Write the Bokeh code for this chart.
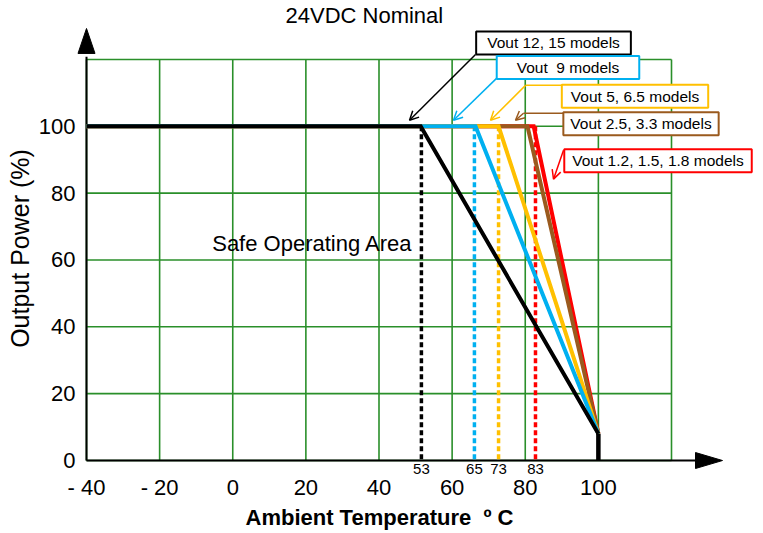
from bokeh.plotting import figure
from bokeh.models import Range1d, FixedTicker, Label, Arrow, OpenHead, LinearAxis, Title
from bokeh.embed import file_html
from bokeh.resources import INLINE

# ---------------- data ----------------
grid_temps = [-40, -20, 0, 20, 40, 60, 80, 100, 120]
grid_powers = [0, 20, 40, 60, 80, 100, 120]
x_tick_values = [-40, -20, 0, 20, 40, 60, 80, 100]
x_tick_labels = ["- 40", "- 20", "0", "20", "40", "60", "80", "100"]
y_tick_values = [0, 20, 40, 60, 80, 100]

series_labels = ["Vout 12, 15 models", "Vout \u00a09 models", "Vout 5, 6.5 models",
                 "Vout 2.5, 3.3 models", "Vout 1.2, 1.5, 1.8 models"]
knee_temp = [51.4, 66.4, 72.7, 80.6, 82.3]      # derating start (deg C)
start_temp = -40
full_power = 100
end_temp = 100
end_power = 8

derate_temp = [51.6, 66.1, 72.7, 82.8]
derate_labels = ["53", "65", "73", "83"]

# ---------------- styles ----------------
FONT = "Liberation Sans"
series_colors = ["#000000", "#00b0f0", "#ffc000", "#9a5a1e", "#ff0000"]
derate_colors = ["#000000", "#00b0f0", "#ffc000", "#ff0000"]
GRID = "#2a8f2a"

# pixel scale of the drawing (px per unit)
SX = 585 / 160.0
SY = 3.35

p = figure(width=763, height=533,
           x_range=Range1d(-40 - 10 / SX, -40 + 669 / SX),
           y_range=Range1d(-9 / SY, 434 / SY),
           output_backend="svg", toolbar_location=None,
           min_border_left=76, min_border_right=8,
           min_border_top=26, min_border_bottom=64)
p.outline_line_color = None
p.xgrid.visible = False
p.ygrid.visible = False
p.background_fill_color = "white"

p.title.text = "24VDC Nominal"
p.title.text_font = FONT
p.title.text_font_size = "22px"
p.title.text_font_style = "normal"
p.title.text_color = "black"
p.title.align = "left"
p.title.offset = 209
p.title.standoff = 0

# small derating-temperature axis (nearest to the plot)
small_ax = p.xaxis[0]
small_ax.ticker = FixedTicker(ticks=derate_temp)
small_ax.major_label_overrides = {t: s for t, s in zip(derate_temp, derate_labels)}
small_ax.major_label_text_font_size = "15px"
small_ax.major_label_standoff = -6

# main temperature axis
main_ax = LinearAxis(ticker=FixedTicker(ticks=x_tick_values))
main_ax.major_label_overrides = {v: s for v, s in zip(x_tick_values, x_tick_labels)}
main_ax.major_label_text_font_size = "22px"
main_ax.major_label_standoff = -2
p.add_layout(main_ax, "below")

# x axis title, placed as in the original drawing
x_title = Title(text="Ambient Temperature \u00a0º C", text_font=FONT, text_font_size="22px",
                text_font_style="bold", text_color="black", align="left",
                offset=169, standoff=0)
p.add_layout(x_title, "below")

p.yaxis.ticker = FixedTicker(ticks=y_tick_values)
p.yaxis.major_label_text_font_size = "22px"
p.yaxis.major_label_standoff = 1
p.yaxis.axis_label = "Output Power (%)"
p.yaxis.axis_label_text_font_style = "normal"
p.yaxis.axis_label_text_font_size = "25px"
p.yaxis.axis_label_standoff = 2

for ax in (small_ax, main_ax, p.yaxis[0]):
    ax.axis_line_color = None
    ax.major_tick_line_color = None
    ax.minor_tick_line_color = None
    ax.major_tick_out = 0
    ax.major_tick_in = 0
    ax.minor_tick_out = 0
    ax.minor_tick_in = 0
    ax.major_label_text_font = FONT
    ax.major_label_text_color = "black"
    ax.axis_label_text_font = FONT
    ax.axis_label_text_color = "black"

# grid
gx_min, gx_max = grid_temps[0], grid_temps[-1]
gy_min, gy_max = grid_powers[0], grid_powers[-1]
p.segment(x0=grid_temps, y0=[gy_min] * len(grid_temps),
          x1=grid_temps, y1=[gy_max] * len(grid_temps),
          line_color=GRID, line_width=1.6)
p.segment(x0=[gx_min] * len(grid_powers), y0=grid_powers,
          x1=[gx_max] * len(grid_powers), y1=grid_powers,
          line_color=GRID, line_width=1.6)

# axis lines with arrow heads
x_tip = -40 + 636 / SX
x_base = -40 + 609 / SX
y_tip = 433 / SY
y_base = 408 / SY
p.line([gx_min, x_base + 1], [0, 0], line_color="black", line_width=2)
p.line([gx_min, gx_min], [0, y_base - 1], line_color="black", line_width=2)
p.patch([x_base, x_tip, x_base], [8 / SY, 0, -8 / SY], color="black")
p.patch([gx_min - 8.5 / SX, gx_min, gx_min + 8.5 / SX], [y_base, y_tip, y_base], color="black")

# dashed derating markers
for t, c in zip(derate_temp, derate_colors):
    p.line([t, t], [full_power, 0], line_color=c, line_width=3.5, line_dash="5 3")

# derating curves (red first, black on top)
for k, c in reversed(list(zip(knee_temp, series_colors))):
    p.line([start_temp, k, end_temp], [full_power, full_power, end_power],
           line_color=c, line_width=4, line_join="miter")
p.line([end_temp, end_temp], [end_power, 0], line_color="black", line_width=4.5)

# area label
p.add_layout(Label(x=21.81, y=64.8, text="Safe Operating Area", text_align="center",
                   text_baseline="middle", text_font=FONT, text_font_size="22px",
                   text_color="black"))

# callout connector lines
p.line([90.46, 80.07], [112.24, 112.24], line_color=series_colors[2], line_width=1.5)
p.line([90.46, 79.53], [103.88, 103.88], line_color=series_colors[3], line_width=1.5)

arrows = [
    (66.40, 121.49, 48.35, 101.79),
    (72.14, 114.33, 60.38, 101.79),
    (80.07, 112.24, 70.50, 101.79),
    (79.53, 103.88, 77.33, 101.79),
    (90.46, 92.84, 87.73, 84.18),
]
for (xs, ys, xe, ye), c in zip(arrows, series_colors):
    p.add_layout(Arrow(end=OpenHead(size=9, line_color=c, line_width=1.5),
                       x_start=xs, y_start=ys, x_end=xe, y_end=ye,
                       line_color=c, line_width=1.5))

# callout boxes
box_centers = [(87.73, 124.93), (91.69, 117.61), (110.02, 108.96),
               (111.66, 100.75), (116.31, 89.70)]
box_pads = [11, 20, 9, 7, 8]
for (bx, by), txt, c, pad in zip(box_centers, series_labels, series_colors, box_pads):
    p.add_layout(Label(x=bx, y=by, text=txt, text_align="center", text_baseline="middle",
                       text_font=FONT, text_font_size="15.5px", text_color="black",
                       background_fill_color="white", border_line_color=c,
                       border_line_width=2, padding=(pad, 3)))

open("out.html", "w").write(file_html(p, INLINE))
